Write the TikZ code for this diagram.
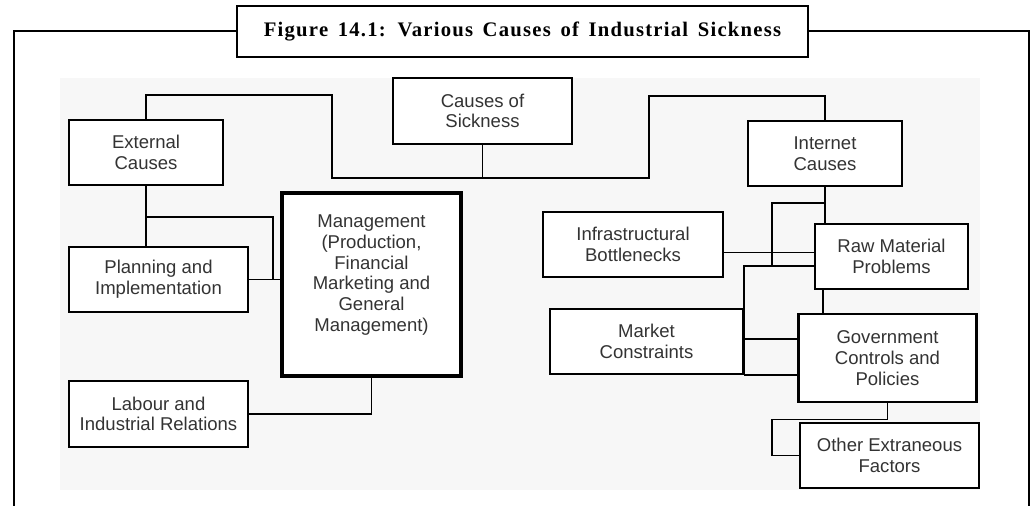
\documentclass[tikz,border=0pt]{standalone}
\usepackage{fontspec}
\setmainfont{Liberation Serif}
\setsansfont{Liberation Sans}
\newfontfamily\titlefont[LetterSpace=6,WordSpace=1.5]{Liberation Serif}
\usetikzlibrary{calc}

\begin{document}
\begin{tikzpicture}[x=0.75pt,y=-0.75pt,
	box/.style={rectangle, draw, line width=1.8pt, fill=white, inner sep=0pt, align=center, text=black!80, font=\sffamily\fontsize{13.9}{15.5}\selectfont},
	link/.style={line width=1.4pt},
	heavy/.style={line width=2.2pt},
	frame/.style={line width=1.5pt}]
		\useasboundingbox (0,0) rectangle (1033,506);
		\fill[black!3] (60,78) rectangle (980,490);
		
		% title and frame
		\node[rectangle, draw, line width=1.5pt, fill=white, inner sep=0pt, minimum width=428pt, minimum height=38pt, font=\titlefont\bfseries\fontsize{15.5}{17}\selectfont] (title) at (522.5,31.5) {Figure 14.1: Various Causes of Industrial Sickness};
		\coordinate (fbl) at (14,506);
		\coordinate (fbr) at (1029,506);
		\draw[frame] (fbl) |- (title.west);
		\draw[frame] (title.east) -| (fbr);
		
		% top level
		\node[box, minimum width=134pt, minimum height=49.5pt] (cause) at (482.5,111) {Causes of\\Sickness};
		\node[box, line width=2.2pt, minimum width=115.5pt, minimum height=48.75pt] (ext) at (146,152.5) {External\\Causes};
		\node[box, minimum width=115.5pt, minimum height=48.75pt] (intc) at (825,153.5) {Internet\\Causes};
		\coordinate (kL) at (332,95);
		\coordinate (kR) at (649,178);
		\coordinate (rowtop) at (0,96);
		\draw[link] (cause.south) -- ++(0,34);
		\draw[link] (ext.north) |- (kL) |- (kR) |- (intc.north |- rowtop) -- (intc.north);
		
		% external side
		\node[box, line width=2.6pt, minimum width=134pt, minimum height=137pt, text depth=17pt] (mgmt) at (371.5,284.5) {Management\\(Production,\\Financial\\Marketing and\\General\\Management)};
		\node[box, minimum width=134pt, minimum height=48.75pt] (plan) at (158.5,279.5) {Planning and\\Implementation};
		\node[box, minimum width=134pt, minimum height=49.5pt] (labour) at (158.5,414) {Labour and\\Industrial Relations};
		\coordinate (kP) at (273,217);
		\draw[link] (ext.south) -- (ext.south |- plan.north);
		\draw[link] (ext.south |- kP) -| (plan.east -| kP);
		\draw[link] (plan.east) -- (plan.east -| mgmt.west);
		\draw[link] (labour.east) -| (mgmt.south);
		
		% internal side
		\node[box, minimum width=135pt, minimum height=48.75pt] (infra) at (633,244.5) {Infrastructural\\Bottlenecks};
		\node[box, line width=1.5pt, minimum width=115pt, minimum height=48.75pt] (raw) at (891.5,256.5) {Raw Material\\Problems};
		\node[box, line width=1.5pt, minimum width=145pt, minimum height=48.75pt] (market) at (646.5,341.5) {Market\\Constraints};
		\node[box, line width=2.2pt, minimum width=134pt, minimum height=66pt] (govt) at (887.5,358) {Government\\Controls and\\Policies};
		\node[box, minimum width=134pt, minimum height=48.75pt] (other) at (889.5,455.5) {Other Extraneous\\Factors};
		\coordinate (colA) at (772,203);
		\coordinate (colB) at (772,266);
		\coordinate (infraR) at ($(infra.east)+(0,8)$);
		\coordinate (mid) at (0,339);
		\coordinate (colR) at (823,0);
		\coordinate (colQ) at (772,0);
		\draw[link] (intc.south) -- (intc.south |- raw.north);
		\draw[link] (intc.south |- colA) -- (colA) -- (colB);
		\draw[link] (infraR) -- (infraR -| raw.west);
		\draw[link] (raw.west |- colB) -| (market.south east);
		\draw[link] (market.south east) -- (market.south east -| govt.west);
		\draw[heavy] (market.east |- mid) -- (govt.west |- mid);
		\draw[heavy] (raw.south -| colR) -- (govt.north -| colR);
		\draw[link] (govt.south) -- ++(0,16) -| (other.west -| colQ) -- (other.west);
		
		\end{tikzpicture}
\end{document}
